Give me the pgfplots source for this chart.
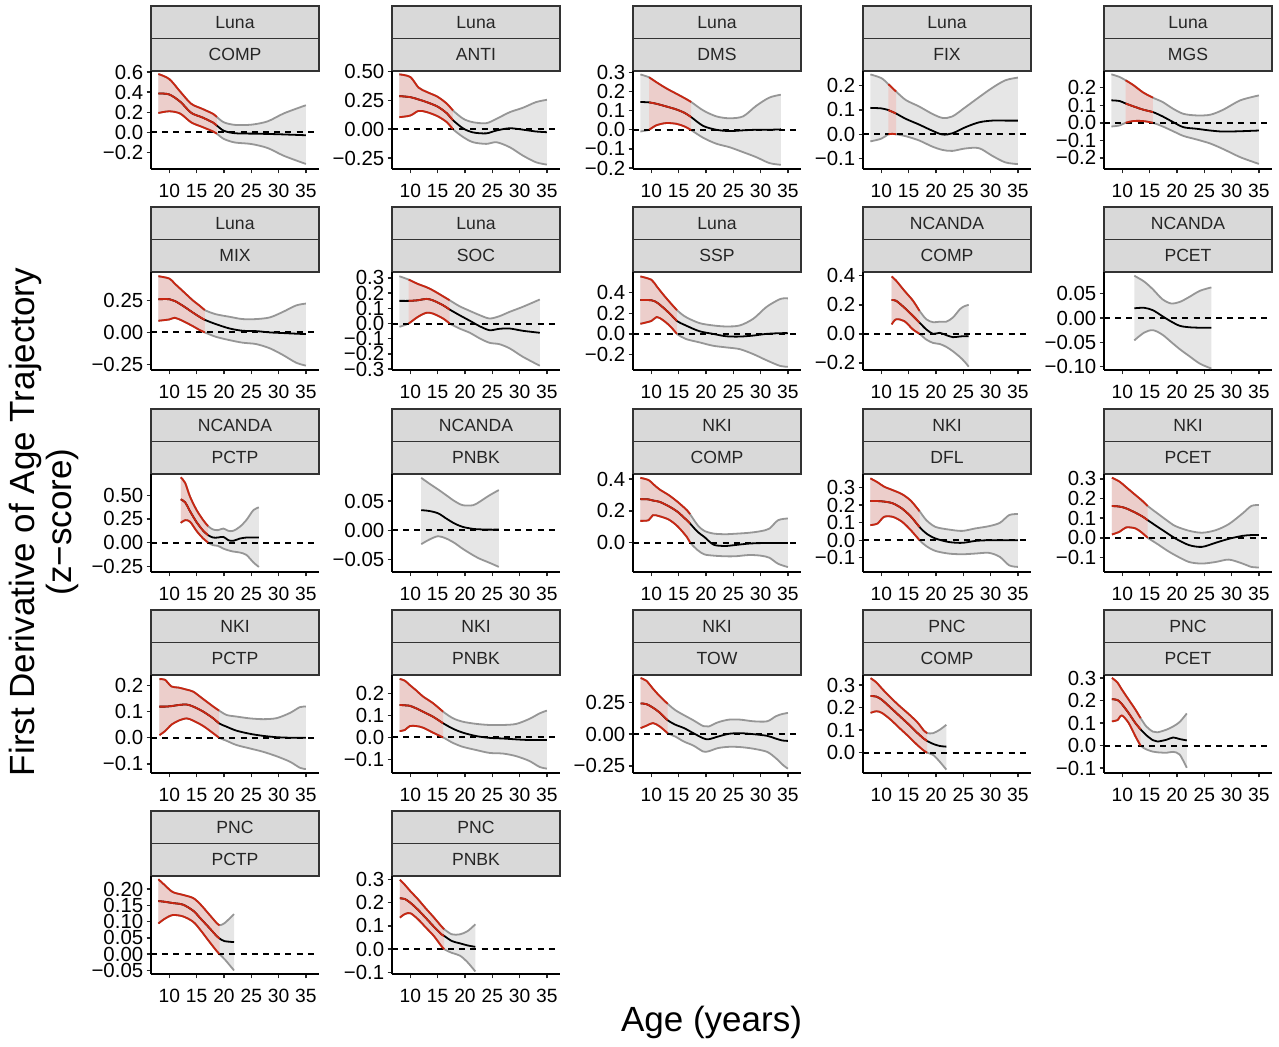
\documentclass[border=0pt]{standalone}
\usepackage{fontspec}
\setmainfont{Liberation Sans}
\usepackage{pgfplots}
\usepackage{pgfplotstable}
\pgfplotsset{compat=1.18}

\definecolor{sigred}{RGB}{200,38,18}
\definecolor{sigfill}{RGB}{236,206,203}
\definecolor{nsfill}{RGB}{230,230,230}
\definecolor{nsline}{RGB}{150,150,150}
\definecolor{stripfill}{RGB}{217,217,217}
\definecolor{stripline}{RGB}{51,51,51}

\newcommand{\ticksize}{\fontsize{9.6}{11}\selectfont}
\newcommand{\yticksize}{\fontsize{10.2}{11}\selectfont}
\newcommand{\stripsize}{\fontsize{8.8}{10}\selectfont}

\pgfplotsset{
  crv/.style={line width=0.9pt, line join=round},
  zeroline/.style={black, line width=1pt, dash pattern=on 3pt off 2.6pt},
  panel/.style={
    scale only axis, width=84pt, height=49pt, anchor=north west,
    xmin=6.65, xmax=37.4,
    axis x line*=bottom, axis y line*=left,
    axis line style={-, line width=0.75pt, black},
    xtick={10,15,20,25,30,35}, xticklabels={10,15,20,25,30,35},
    scaled y ticks=false, scaled x ticks=false,
    tick align=outside, major tick length=2.2pt,
    tick style={line width=0.7pt, black!85},
    tick label style={text=black},
    xticklabel style={font=\ticksize, inner sep=1pt, yshift=-4.3pt},
    yticklabel style={font=\yticksize, inner sep=1pt, xshift=-0.5pt},
  },
}

\newcommand{\strips}[4]{%
 \begin{scope}[x=1pt,y=1pt]
  \draw[fill=stripfill, draw=stripline, line width=0.55pt] (#1,-#2+32.5) rectangle (#1+84,-#2+16.25);
  \draw[fill=stripfill, draw=stripline, line width=0.55pt] (#1,-#2+16.25) rectangle (#1+84,-#2);
  \node[font=\stripsize, text=black!85] at (#1+42,-#2+24.4) {#3};
  \node[font=\stripsize, text=black!85] at (#1+42,-#2+8.1) {#4};
 \end{scope}}

% band between lo and hi: L, T, ymin, ymax, table, extra filter, fill colour
\newcommand{\band}[7]{%
 \begin{axis}[panel, hide axis, at={(#1pt,-#2pt)}, ymin=#3, ymax=#4]
  \addplot[draw=none, stack plots=y, smooth, #6] table[x=x,y=lo]{#5};
  \addplot[draw=none, fill=#7, stack plots=y, smooth, #6] table[x=x,y expr=\thisrow{hi}-\thisrow{lo}]{#5} \closedcycle;
 \end{axis}}

% lines + axes: L, T, ymin, ymax, ytick, yticklabels, table, sig domain
\newcommand{\lines}[8]{%
 \begin{axis}[panel, at={(#1pt,-#2pt)}, ymin=#3, ymax=#4, ytick={#5}, yticklabels={#6}]
  \addplot[nsline, crv, smooth] table[x=x,y=hi]{#7};
  \addplot[nsline, crv, smooth] table[x=x,y=lo]{#7};
  \addplot[zeroline] coordinates {(6.65,0) (37.4,0)};
  \addplot[black, crv, smooth] table[x=x,y=m]{#7};
  \addplot[sigred, crv, smooth, restrict x to domain=#8] table[x=x,y=hi]{#7};
  \addplot[sigred, crv, smooth, restrict x to domain=#8] table[x=x,y=lo]{#7};
  \addplot[sigred, crv, smooth, restrict x to domain=#8] table[x=x,y=m]{#7};
 \end{axis}}
\newcommand{\linesns}[7]{%
 \begin{axis}[panel, at={(#1pt,-#2pt)}, ymin=#3, ymax=#4, ytick={#5}, yticklabels={#6}]
  \addplot[nsline, crv, smooth] table[x=x,y=hi]{#7};
  \addplot[nsline, crv, smooth] table[x=x,y=lo]{#7};
  \addplot[zeroline] coordinates {(6.65,0) (37.4,0)};
  \addplot[black, crv, smooth] table[x=x,y=m]{#7};
 \end{axis}}

\newcommand{\panelsig}[8]{%
 \band{#1}{#2}{#3}{#4}{#7}{}{nsfill}%
 \band{#1}{#2}{#3}{#4}{#7}{restrict x to domain=#8}{sigfill}%
 \lines{#1}{#2}{#3}{#4}{#5}{#6}{#7}{#8}}
\newcommand{\panelns}[7]{%
 \band{#1}{#2}{#3}{#4}{#7}{}{nsfill}%
 \linesns{#1}{#2}{#3}{#4}{#5}{#6}{#7}}

% ---------------- data: x, mean, lower, upper ----------------
\pgfplotstableread{
x m lo hi
8 0.387 0.193 0.580
10 0.377 0.210 0.530
12 0.305 0.187 0.405
14 0.195 0.100 0.285
16 0.150 0.055 0.235
18 0.098 0.010 0.185
18.7 0.068 -0.013 0.153
20 0.016 -0.065 0.100
22 -0.008 -0.100 0.075
25 -0.012 -0.115 0.077
28 -0.015 -0.155 0.110
31 -0.020 -0.233 0.190
35 -0.028 -0.313 0.270
}\tA
\pgfplotstableread{
x m lo hi
8 0.286 0.104 0.474
10 0.277 0.118 0.451
11.5 0.257 0.158 0.360
13 0.234 0.148 0.322
15 0.195 0.112 0.280
16.7 0.137 0.060 0.220
17.8 0.078 0.000 0.162
19.7 0.006 -0.069 0.090
21.5 -0.028 -0.113 0.060
23.9 -0.036 -0.127 0.052
25.8 -0.011 -0.113 0.090
28.2 0.008 -0.156 0.147
30.6 -0.004 -0.228 0.185
33 -0.020 -0.286 0.234
35 -0.026 -0.306 0.254
}\tB
\pgfplotstableread{
x m lo hi
8 0.145 -0.009 0.289
9.6 0.143 0.000 0.274
10.9 0.136 0.023 0.249
12.7 0.122 0.035 0.217
14.6 0.106 0.031 0.188
16.1 0.088 0.017 0.165
17.3 0.066 -0.002 0.145
19.5 0.020 -0.042 0.101
21.9 0.000 -0.073 0.070
24.3 -0.007 -0.091 0.060
26.8 -0.003 -0.117 0.070
29.2 0.000 -0.143 0.125
31.6 0.000 -0.174 0.168
33.7 0.002 -0.183 0.183
}\tC
\pgfplotstableread{
x m lo hi
8 0.108 -0.029 0.245
10 0.106 -0.018 0.230
11.3 0.099 0.000 0.205
12 0.092 0.002 0.190
12.7 0.085 0.000 0.175
14.5 0.063 -0.008 0.140
16.9 0.040 -0.025 0.114
19.3 0.015 -0.050 0.084
21.2 -0.001 -0.064 0.067
23 0.004 -0.068 0.073
25.4 0.029 -0.058 0.111
27.9 0.049 -0.057 0.152
30.3 0.056 -0.088 0.190
32.7 0.056 -0.115 0.221
35 0.056 -0.122 0.232
}\tD
\pgfplotstableread{
x m lo hi
8 0.128 -0.021 0.276
9.5 0.124 -0.015 0.261
10.6 0.110 0.000 0.242
12 0.094 0.010 0.215
13.8 0.075 0.010 0.173
15.6 0.061 0.000 0.143
17.4 0.036 -0.021 0.118
19.3 0.004 -0.048 0.080
21.2 -0.025 -0.075 0.051
23.6 -0.034 -0.095 0.042
26.1 -0.044 -0.118 0.046
28.5 -0.050 -0.150 0.075
31.6 -0.048 -0.196 0.128
35 -0.044 -0.234 0.156
}\tE
\pgfplotstableread{
x m lo hi
8 0.259 0.091 0.438
10 0.259 0.101 0.420
11 0.245 0.114 0.380
12.4 0.210 0.091 0.325
14.3 0.155 0.049 0.250
15.5 0.122 0.020 0.210
16.5 0.098 0.000 0.174
18.5 0.065 -0.034 0.142
21 0.031 -0.060 0.122
23.4 0.013 -0.080 0.104
25.9 0.010 -0.091 0.104
28.4 0.000 -0.124 0.117
30.8 -0.005 -0.176 0.160
33.2 -0.010 -0.236 0.210
35 -0.013 -0.259 0.225
}\tF
\pgfplotstableread{
x m lo hi
8 0.149 -0.022 0.311
9.7 0.149 0.000 0.289
11.4 0.153 0.044 0.260
12.9 0.162 0.070 0.240
14.1 0.153 0.066 0.219
16 0.120 0.033 0.179
17.2 0.092 0.000 0.153
19 0.055 -0.033 0.114
20.9 0.018 -0.061 0.083
22.7 -0.018 -0.098 0.055
24.5 -0.044 -0.127 0.033
26.3 -0.035 -0.136 0.048
28.2 -0.033 -0.164 0.077
30.6 -0.048 -0.219 0.110
33.7 -0.061 -0.278 0.158
}\tG
\pgfplotstableread{
x m lo hi
8 0.328 0.098 0.557
10 0.326 0.125 0.525
11 0.305 0.164 0.460
12.2 0.254 0.131 0.380
13.5 0.190 0.072 0.300
14.7 0.125 0.000 0.230
16.3 0.082 -0.049 0.164
18.8 0.026 -0.082 0.105
21.3 0.000 -0.115 0.082
23.7 -0.023 -0.131 0.072
26.2 -0.026 -0.148 0.082
28.7 -0.016 -0.197 0.148
31.1 0.000 -0.256 0.262
33.6 0.007 -0.311 0.338
35 0.007 -0.318 0.344
}\tH
\pgfplotstableread{
x m lo hi
11.9 0.233 0.065 0.395
12.7 0.228 0.100 0.367
14.2 0.181 0.088 0.298
15.8 0.123 0.030 0.228
17.0 0.077 0.000 0.158
18.25 0.030 -0.040 0.100
19.5 0.000 -0.063 0.080
20.7 0.007 -0.070 0.084
21.9 -0.009 -0.090 0.084
23.1 -0.023 -0.120 0.112
24.4 -0.018 -0.160 0.170
25.2 -0.016 -0.190 0.190
26.0 -0.016 -0.226 0.200
}\tI
\pgfplotstableread{
x m lo hi
12.2 0.020 -0.046 0.087
14.0 0.021 -0.030 0.075
15.6 0.016 -0.025 0.059
17.3 0.004 -0.034 0.039
18.9 -0.007 -0.049 0.030
20.5 -0.016 -0.064 0.033
22.2 -0.019 -0.078 0.043
24.2 -0.020 -0.094 0.056
26.3 -0.020 -0.104 0.063
}\tJ
\pgfplotstableread{
x m lo hi
12.1 0.456 0.208 0.689
12.9 0.425 0.237 0.630
13.8 0.330 0.220 0.484
15 0.215 0.122 0.343
16.2 0.125 0.043 0.237
17.1 0.078 0.000 0.173
18 0.053 -0.028 0.138
18.9 0.053 -0.035 0.131
19.9 0.060 -0.064 0.148
20.8 0.025 -0.082 0.124
21.7 0.018 -0.095 0.124
22.9 0.042 -0.105 0.166
24.1 0.053 -0.130 0.237
25.4 0.053 -0.210 0.343
26.4 0.053 -0.258 0.371
}\tK
\pgfplotstableread{
x m lo hi
12.0 0.0345 -0.0240 0.090
13.5 0.0330 -0.0160 0.080
15.1 0.0290 -0.0103 0.070
16.6 0.0200 -0.0144 0.060
18.1 0.0115 -0.0220 0.050
19.6 0.0057 -0.0320 0.043
21.5 0.0023 -0.0430 0.043
22.7 0.0015 -0.0490 0.049
24.5 0.0010 -0.0560 0.060
26.2 0.0010 -0.0630 0.069
}\tL
\pgfplotstableread{
x m lo hi
8 0.274 0.137 0.408
9.5 0.272 0.141 0.394
10.3 0.265 0.173 0.370
11.5 0.257 0.166 0.335
13.2 0.229 0.145 0.299
14.8 0.194 0.103 0.257
16.5 0.141 0.036 0.205
17.1 0.120 0.000 0.179
18.5 0.067 -0.048 0.109
19.7 0.036 -0.074 0.074
21.4 -0.013 -0.082 0.057
23.5 -0.021 -0.086 0.053
25.4 -0.015 -0.086 0.056
27.9 -0.006 -0.078 0.062
30 -0.003 -0.082 0.072
31.6 -0.002 -0.095 0.088
33.2 -0.002 -0.133 0.141
35 -0.002 -0.154 0.152
}\tM
\pgfplotstableread{
x m lo hi
8 0.223 0.086 0.352
9.3 0.223 0.095 0.330
10.5 0.220 0.133 0.305
12.1 0.210 0.133 0.285
13.8 0.180 0.105 0.262
15.4 0.135 0.057 0.225
17.0 0.075 0.000 0.165
18.25 0.038 -0.034 0.114
19.9 0.010 -0.061 0.076
22.3 -0.010 -0.076 0.061
24.8 -0.015 -0.080 0.053
27.2 -0.004 -0.076 0.067
29.7 0.000 -0.072 0.080
31.7 0.000 -0.095 0.099
33.4 0.000 -0.143 0.143
35 0.000 -0.152 0.149
}\tN
\pgfplotstableread{
x m lo hi
8.1 0.162 0.017 0.306
9.5 0.159 0.031 0.286
10.7 0.150 0.053 0.258
12.4 0.128 0.048 0.218
13.6 0.110 0.026 0.190
14.65 0.090 0.000 0.162
16.45 0.056 -0.032 0.124
18.1 0.026 -0.063 0.090
19.7 -0.003 -0.089 0.060
22.2 -0.037 -0.123 0.036
24.6 -0.046 -0.131 0.026
27.1 -0.025 -0.123 0.039
29.5 -0.005 -0.111 0.070
32 0.010 -0.131 0.124
33.6 0.014 -0.148 0.162
35 0.014 -0.151 0.167
}\tO
\pgfplotstableread{
x m lo hi
8.2 0.119 0.010 0.224
9.2 0.119 0.025 0.222
10.4 0.121 0.050 0.196
11.65 0.125 0.065 0.192
13.17 0.127 0.074 0.184
14.4 0.119 0.065 0.176
16.2 0.100 0.045 0.148
18.05 0.074 0.017 0.119
19.1 0.055 0.000 0.104
20.5 0.042 -0.012 0.087
22.3 0.027 -0.028 0.081
24.75 0.015 -0.041 0.074
27.2 0.007 -0.054 0.071
29.65 0.002 -0.071 0.075
32.1 0.000 -0.092 0.095
33.9 0.000 -0.115 0.117
35 0.000 -0.120 0.119
}\tP
\pgfplotstableread{
x m lo hi
8.05 0.149 0.029 0.268
9.0 0.147 0.034 0.260
9.9 0.145 0.052 0.240
11.1 0.133 0.052 0.215
12.3 0.118 0.045 0.188
14.15 0.095 0.022 0.157
16.0 0.065 0.000 0.118
17.8 0.040 -0.025 0.088
19.6 0.022 -0.043 0.072
22.1 0.006 -0.058 0.062
24.5 -0.002 -0.071 0.057
27 -0.005 -0.074 0.057
29.4 -0.009 -0.086 0.062
31.8 -0.012 -0.108 0.085
33.65 -0.012 -0.135 0.110
35 -0.012 -0.143 0.123
}\tQ
\pgfplotstableread{
x m lo hi
8.04 0.243 0.048 0.444
9.1 0.238 0.067 0.422
10.3 0.210 0.088 0.360
11.55 0.170 0.061 0.300
13.0 0.110 0.008 0.240
14.4 0.075 -0.019 0.190
16 0.048 -0.059 0.150
17.7 0.008 -0.090 0.110
19.5 -0.032 -0.137 0.064
20.5 -0.040 -0.135 0.061
22.2 -0.019 -0.110 0.094
24.2 0.003 -0.100 0.115
26.3 0.008 -0.102 0.115
28.7 0.000 -0.115 0.102
31.2 -0.013 -0.140 0.102
32.8 -0.035 -0.190 0.142
34.0 -0.050 -0.240 0.160
35 -0.053 -0.273 0.168
}\tR
\pgfplotstableread{
x m lo hi
8.04 0.252 0.177 0.331
9.1 0.249 0.184 0.312
10.1 0.235 0.177 0.285
11.7 0.200 0.147 0.245
13.35 0.163 0.109 0.207
15 0.126 0.072 0.172
16.6 0.088 0.034 0.135
17.8 0.062 0.009 0.098
18.4 0.052 0.000 0.087
19.5 0.039 -0.010 0.087
20.7 0.030 -0.040 0.102
21.9 0.027 -0.075 0.124
}\tS
\pgfplotstableread{
x m lo hi
8.1 0.206 0.108 0.301
9.1 0.203 0.113 0.281
9.9 0.185 0.134 0.250
11.15 0.145 0.101 0.205
12.4 0.100 0.041 0.160
13.35 0.072 0.000 0.122
14.4 0.046 -0.017 0.085
15.6 0.024 -0.027 0.062
16.45 0.018 -0.030 0.059
18.1 0.026 -0.032 0.071
19.3 0.036 -0.028 0.085
20.5 0.029 -0.040 0.105
21.8 0.023 -0.099 0.143
}\tT
\pgfplotstableread{
x m lo hi
8 0.163 0.094 0.230
9.1 0.161 0.108 0.213
10.6 0.157 0.120 0.191
12.5 0.152 0.116 0.182
14.4 0.133 0.099 0.172
15.8 0.108 0.072 0.151
17.25 0.082 0.040 0.123
18.7 0.055 0.009 0.095
19.2 0.048 0.000 0.089
20.1 0.040 -0.015 0.095
21.85 0.037 -0.050 0.123
}\tU
\pgfplotstableread{
x m lo hi
8.1 0.219 0.136 0.299
9.0 0.216 0.151 0.277
10.0 0.200 0.155 0.250
11.4 0.170 0.129 0.215
12.85 0.134 0.093 0.175
14.3 0.097 0.057 0.137
15.7 0.064 0.013 0.098
16.2 0.057 0.000 0.086
17.6 0.035 -0.016 0.064
19.1 0.025 -0.028 0.064
20.5 0.016 -0.057 0.078
21.9 0.010 -0.096 0.107
}\tV

\begin{document}
\begin{tikzpicture}
\path (0,0) rectangle (639.5pt,-523.5pt);

% ---- row 1 (top y = 35.5pt)
\strips{75.5}{35.5}{Luna}{COMP}
\strips{196}{35.5}{Luna}{ANTI}
\strips{316.5}{35.5}{Luna}{DMS}
\strips{431.5}{35.5}{Luna}{FIX}
\strips{552}{35.5}{Luna}{MGS}
\panelsig{75.5}{35.5}{-0.363}{0.61}{-0.2,0,0.2,0.4,0.6}{−0.2,0.0,0.2,0.4,0.6}{\tA}{8:18.7}
\panelsig{196}{35.5}{-0.344}{0.503}{-0.25,0,0.25,0.5}{−0.25,0.00,0.25,0.50}{\tB}{8:17.8}
\panelsig{316.5}{35.5}{-0.205}{0.307}{-0.2,-0.1,0,0.1,0.2,0.3}{−0.2,−0.1,0.0,0.1,0.2,0.3}{\tC}{9.6:17.3}
\panelsig{431.5}{35.5}{-0.142}{0.259}{-0.1,0,0.1,0.2}{−0.1,0.0,0.1,0.2}{\tD}{11.3:12.7}
\panelsig{552}{35.5}{-0.263}{0.295}{-0.2,-0.1,0,0.1,0.2}{−0.2,−0.1,0.0,0.1,0.2}{\tE}{10.6:15.6}

% ---- row 2 (top y = 136pt)
\strips{75.5}{136}{Luna}{MIX}
\strips{196}{136}{Luna}{SOC}
\strips{316.5}{136}{Luna}{SSP}
\strips{431.5}{136}{NCANDA}{COMP}
\strips{552}{136}{NCANDA}{PCET}
\panelsig{75.5}{136}{-0.293}{0.471}{-0.25,0,0.25}{−0.25,0.00,0.25}{\tF}{8:16.5}
\panelsig{196}{136}{-0.306}{0.339}{-0.3,-0.2,-0.1,0,0.1,0.2,0.3}{−0.3,−0.2,−0.1,0.0,0.1,0.2,0.3}{\tG}{9.7:17.2}
\panelsig{316.5}{136}{-0.35}{0.6}{-0.2,0,0.2,0.4}{−0.2,0.0,0.2,0.4}{\tH}{8:14.7}
\panelsig{431.5}{136}{-0.249}{0.426}{-0.2,0,0.2,0.4}{−0.2,0.0,0.2,0.4}{\tI}{11.9:17.0}
\panelns{552}{136}{-0.107}{0.0947}{-0.1,-0.05,0,0.05}{−0.10,−0.05,0.00,0.05}{\tJ}

% ---- row 3 (top y = 237pt)
\strips{75.5}{237}{NCANDA}{PCTP}
\strips{196}{237}{NCANDA}{PNBK}
\strips{316.5}{237}{NKI}{COMP}
\strips{431.5}{237}{NKI}{DFL}
\strips{552}{237}{NKI}{PCET}
\panelsig{75.5}{237}{-0.311}{0.724}{-0.25,0,0.25,0.5}{−0.25,0.00,0.25,0.50}{\tK}{12.1:17.1}
\panelns{196}{237}{-0.0718}{0.0966}{-0.05,0,0.05}{−0.05,0.00,0.05}{\tL}
\panelsig{316.5}{237}{-0.185}{0.432}{0,0.2,0.4}{0.0,0.2,0.4}{\tM}{8:17.1}
\panelsig{431.5}{237}{-0.181}{0.377}{-0.1,0,0.1,0.2,0.3}{−0.1,0.0,0.1,0.2,0.3}{\tN}{8:17.0}
\panelsig{552}{237}{-0.174}{0.325}{-0.1,0,0.1,0.2,0.3}{−0.1,0.0,0.1,0.2,0.3}{\tO}{8.1:14.65}

% ---- row 4 (top y = 337.5pt)
\strips{75.5}{337.5}{NKI}{PCTP}
\strips{196}{337.5}{NKI}{PNBK}
\strips{316.5}{337.5}{NKI}{TOW}
\strips{431.5}{337.5}{PNC}{COMP}
\strips{552}{337.5}{PNC}{PCET}
\panelsig{75.5}{337.5}{-0.135}{0.24}{-0.1,0,0.1,0.2}{−0.1,0.0,0.1,0.2}{\tP}{8.2:19.1}
\panelsig{196}{337.5}{-0.163}{0.286}{-0.1,0,0.1,0.2}{−0.1,0.0,0.1,0.2}{\tQ}{8.05:16.0}
\panelsig{316.5}{337.5}{-0.307}{0.468}{-0.25,0,0.25}{−0.25,0.00,0.25}{\tR}{8.04:13.0}
\panelsig{431.5}{337.5}{-0.09}{0.345}{0,0.1,0.2,0.3}{0.0,0.1,0.2,0.3}{\tS}{8.04:18.4}
\panelsig{552}{337.5}{-0.122}{0.314}{-0.1,0,0.1,0.2,0.3}{−0.1,0.0,0.1,0.2,0.3}{\tT}{8.1:13.35}

% ---- row 5 (top y = 438pt)
\strips{75.5}{438}{PNC}{PCTP}
\strips{196}{438}{PNC}{PNBK}
\panelsig{75.5}{438}{-0.061}{0.24}{-0.05,0,0.05,0.1,0.15,0.2}{−0.05,0.00,0.05,0.10,0.15,0.20}{\tU}{8:19.2}
\panelsig{196}{438}{-0.107}{0.315}{-0.1,0,0.1,0.2,0.3}{−0.1,0.0,0.1,0.2,0.3}{\tV}{8.1:16.2}

% ---- axis titles
\node[rotate=90, align=center, font=\fontsize{17.5}{18.5}\selectfont] at (21.75pt,-261pt)
  {First Derivative of Age Trajectory\\(z−score)};
\node[font=\fontsize{17.5}{21}\selectfont] at (355.75pt,-511pt) {Age (years)};
\end{tikzpicture}
\end{document}
